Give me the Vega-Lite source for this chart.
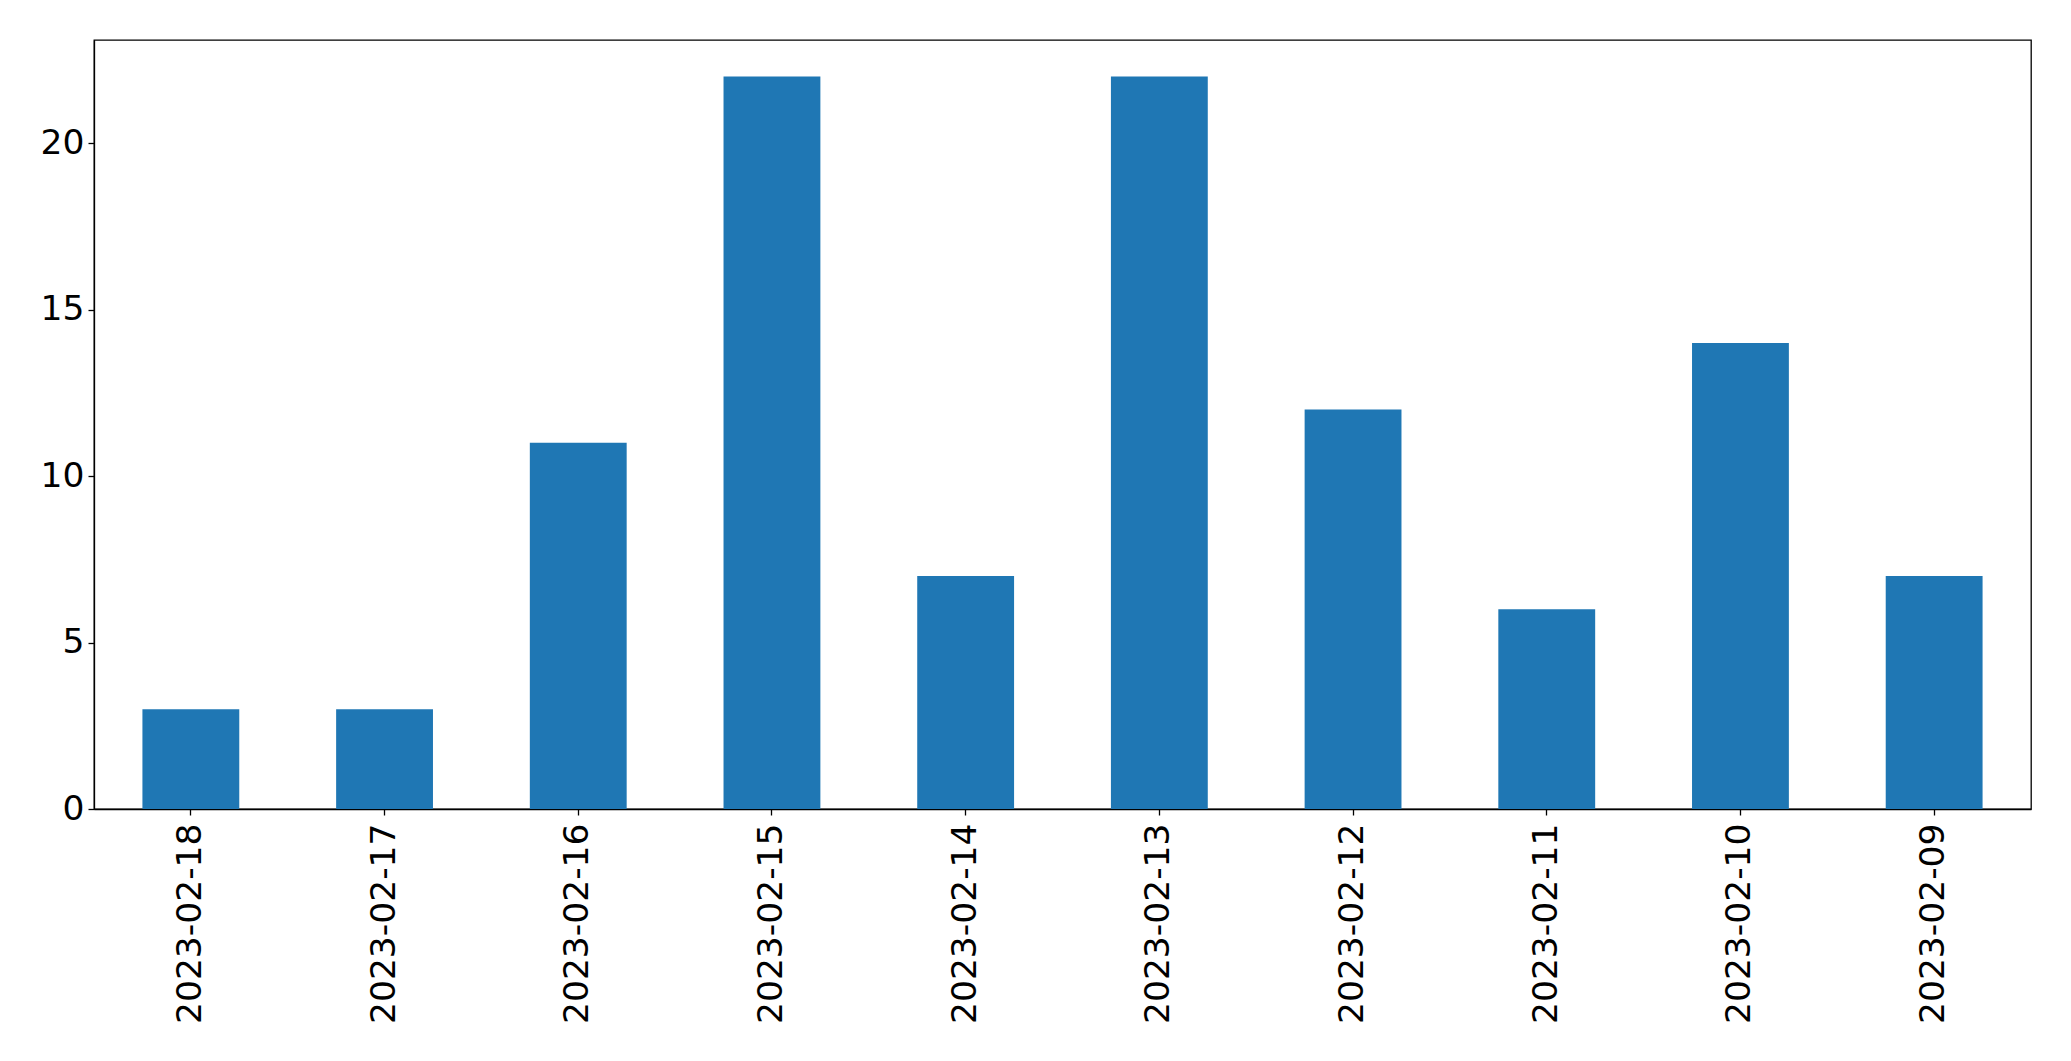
{
  "$schema": "https://vega.github.io/schema/vega-lite/v6.json",
  "autosize": "none",
  "width": 1937,
  "height": 769,
  "padding": {"left": 94, "top": 40, "right": 40, "bottom": 252},
  "background": "white",
  "data": {"values": [
    {"date": "2023-02-18", "count": 3},
    {"date": "2023-02-17", "count": 3},
    {"date": "2023-02-16", "count": 11},
    {"date": "2023-02-15", "count": 22},
    {"date": "2023-02-14", "count": 7},
    {"date": "2023-02-13", "count": 22},
    {"date": "2023-02-12", "count": 12},
    {"date": "2023-02-11", "count": 6},
    {"date": "2023-02-10", "count": 14},
    {"date": "2023-02-09", "count": 7}
  ]},
  "mark": {"type": "bar", "color": "#1f77b4"},
  "encoding": {
    "x": {
      "field": "date", "type": "nominal", "sort": null,
      "scale": {"paddingInner": 0.5, "paddingOuter": 0.25},
      "axis": {"title": null, "labelAngle": -90, "labelFontSize": 34.5, "labelFont": "DejaVu Sans", "labelColor": "black", "labelLimit": 0,
               "tickColor": "black", "tickSize": 6, "tickWidth": 1.3, "domainColor": "black", "domainWidth": 1.3, "labelPadding": 8, "grid": false}
    },
    "y": {
      "field": "count", "type": "quantitative",
      "scale": {"domain": [0, 23.1], "nice": false},
      "axis": {"title": null, "values": [0, 5, 10, 15, 20], "labelFontSize": 34.5, "labelFont": "DejaVu Sans", "labelColor": "black",
               "tickColor": "black", "tickSize": 6, "tickWidth": 1.3, "domainColor": "black", "domainWidth": 1.3, "labelPadding": 4, "grid": false}
    }
  },
  "config": {"view": {"stroke": "black", "strokeWidth": 1.3}}
}
